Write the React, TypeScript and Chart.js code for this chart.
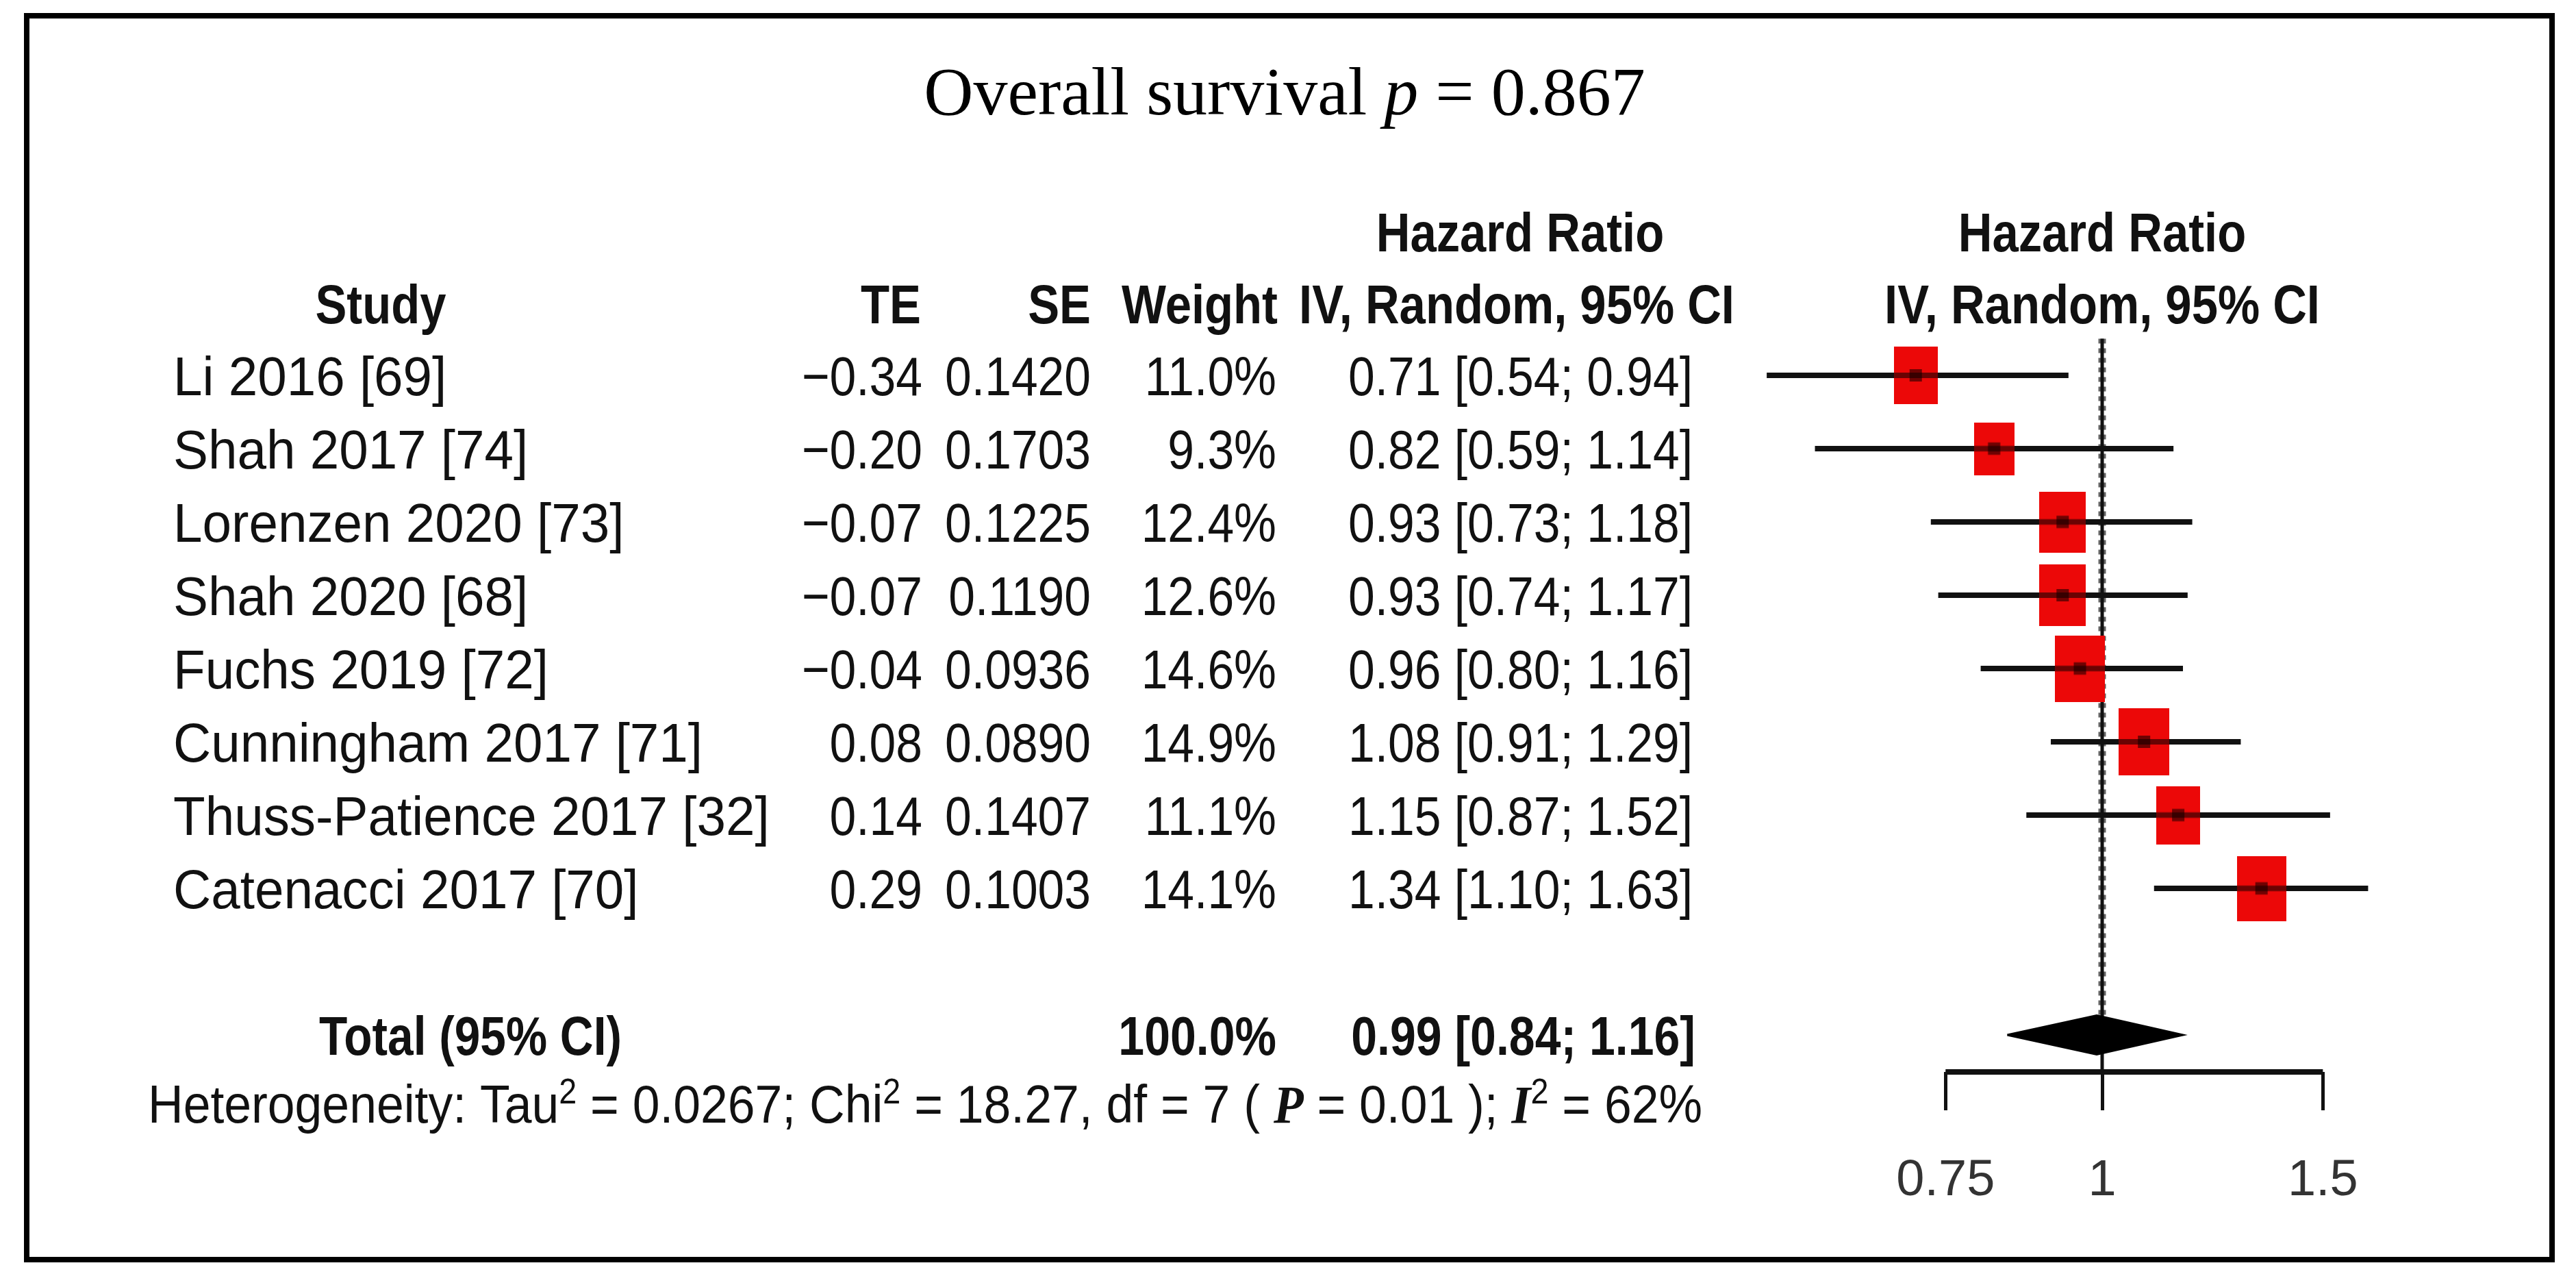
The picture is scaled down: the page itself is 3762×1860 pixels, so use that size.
import React, { useEffect, useRef } from "react";
import { Chart, registerables } from "chart.js";

Chart.register(...registerables);

// ---------------- data ----------------
const STUDIES = [
  "Li 2016 [69]",
  "Shah 2017 [74]",
  "Lorenzen 2020 [73]",
  "Shah 2020 [68]",
  "Fuchs 2019 [72]",
  "Cunningham 2017 [71]",
  "Thuss-Patience 2017 [32]",
  "Catenacci 2017 [70]",
];
const TE = [-0.34, -0.2, -0.07, -0.07, -0.04, 0.08, 0.14, 0.29];
const SE = [0.142, 0.1703, 0.1225, 0.119, 0.0936, 0.089, 0.1407, 0.1003];
const WEIGHT = [11.0, 9.3, 12.4, 12.6, 14.6, 14.9, 11.1, 14.1];
const HR = [0.71, 0.82, 0.93, 0.93, 0.96, 1.08, 1.15, 1.34];
const HR_LOWER = [0.54, 0.59, 0.73, 0.74, 0.8, 0.91, 0.87, 1.1];
const HR_UPPER = [0.94, 1.14, 1.18, 1.17, 1.16, 1.29, 1.52, 1.63];

const TOTAL_LABEL = "Total (95% CI)";
const TOTAL_WEIGHT = 100.0;
const TOTAL_HR = 0.99;
const TOTAL_LOWER = 0.84;
const TOTAL_UPPER = 1.16;

const HET_TAU2 = "0.0267";
const HET_CHI2 = "18.27";
const HET_DF = "7";
const HET_P = "0.01";
const HET_I2 = "62%";

const X_TICKS = [0.75, 1, 1.5];
const X_TICK_LABELS = ["0.75", "1", "1.5"];

const TITLE_PARTS = ["Overall survival ", "p", " = 0.867"];
const HEAD_HR = "Hazard Ratio";
const HEAD_METHOD = "IV, Random, 95% CI";
const HEAD_COLS = ["Study", "TE", "SE", "Weight"];

// ---------------- layout ----------------
const W = 3762;
const H = 1860;
const PLOT_LEFT = 2540;
const PLOT_RIGHT = 3520;
const PLOT_TOP = 494.5;
const AXIS_Y = 1565;
const NULL_X_PX = 3070;
const PX_PER_LN = 795;
const ROW_PX = 107;
const TOTAL_ROW = 9;
const Y_MIN = -0.5;
const Y_MAX = Y_MIN + (AXIS_Y - PLOT_TOP) / ROW_PX;
const X_MIN = Math.exp((PLOT_LEFT - NULL_X_PX) / PX_PER_LN);
const X_MAX = Math.exp((PLOT_RIGHT - NULL_X_PX) / PX_PER_LN);
const TICK_LEN = 56;
const TICK_FONT = 74;
const TICK_PAD = 59.6;
const AXIS_H = TICK_LEN + TICK_FONT * 1.2 + 2 * TICK_PAD;
const DIAMOND_HALF = 28.5 / ROW_PX;

const SANS = '"Liberation Sans", Arial, Helvetica, sans-serif';
const SERIF = '"Liberation Serif", "Times New Roman", Times, serif';
const FS = 80;

function fmtTE(v: number) {
  return (v < 0 ? "\u2212" : "") + Math.abs(v).toFixed(2);
}
function fmtCI(h: number, l: number, u: number) {
  return `${h.toFixed(2)} [${l.toFixed(2)}; ${u.toFixed(2)}]`;
}

function drawText(
  ctx: CanvasRenderingContext2D,
  text: string,
  x: number,
  yc: number,
  align: "left" | "right" | "center",
  sx: number,
  bold = false,
  size = FS
) {
  ctx.save();
  ctx.font = `${bold ? "bold " : ""}${size}px ${SANS}`;
  const w = ctx.measureText(text).width * sx;
  const left = align === "left" ? x : align === "right" ? x - w : x - w / 2;
  ctx.translate(left, yc + size * 0.358);
  ctx.scale(sx, 1);
  ctx.textAlign = "left";
  ctx.textBaseline = "alphabetic";
  ctx.fillStyle = "#111";
  ctx.fillText(text, 0, 0);
  ctx.restore();
}

function makeBox(w: number) {
  const c = document.createElement("canvas");
  const bw = Math.round(19.2 * Math.sqrt(w));
  const bh = Math.round(25.4 * Math.sqrt(w));
  c.width = bw;
  c.height = bh;
  const g = c.getContext("2d")!;
  g.fillStyle = "rgb(236, 8, 8)";
  g.fillRect(0, 0, bw, bh);
  g.fillStyle = "rgba(70, 0, 0, 0.75)";
  g.fillRect(bw / 2 - 9, bh / 2 - 9, 18, 18);
  g.fillStyle = "rgba(20, 0, 0, 0.6)";
  g.fillRect(0, bh / 2 - 4, bw, 8);
  return c;
}

const textPlugin = {
  id: "forestText",
  beforeDraw(chart: any) {
    const ctx = chart.ctx as CanvasRenderingContext2D;
    ctx.save();
    ctx.fillStyle = "#fff";
    ctx.fillRect(0, 0, W, H);
    ctx.restore();
  },
  afterDraw(chart: any) {
    const ctx = chart.ctx as CanvasRenderingContext2D;
    const xs = chart.scales.x;
    const ys = chart.scales.y;
    const nullX = xs.getPixelForValue(1);

    // frame
    ctx.save();
    ctx.strokeStyle = "#000";
    ctx.lineWidth = 8;
    ctx.strokeRect(39, 23, 3688, 1816);
    ctx.restore();

    // title
    ctx.save();
    ctx.fillStyle = "#000";
    ctx.textBaseline = "alphabetic";
    const tf = 100;
    const fonts = [`${tf}px ${SERIF}`, `italic ${tf}px ${SERIF}`, `${tf}px ${SERIF}`];
    const widths = TITLE_PARTS.map((t, i) => {
      ctx.font = fonts[i];
      return ctx.measureText(t).width;
    });
    let tx = 1876 - widths.reduce((a, b) => a + b, 0) / 2;
    TITLE_PARTS.forEach((t, i) => {
      ctx.font = fonts[i];
      ctx.fillText(t, tx, 167);
      tx += widths[i];
    });
    ctx.restore();

    // headers
    const hsx = 0.86;
    drawText(ctx, HEAD_HR, 2220, 338, "center", hsx, true);
    drawText(ctx, HEAD_HR, nullX, 338, "center", hsx, true);
    drawText(ctx, HEAD_COLS[0], 556, 443, "center", hsx, true);
    drawText(ctx, HEAD_COLS[1], 1345, 443, "right", hsx, true);
    drawText(ctx, HEAD_COLS[2], 1593, 443, "right", hsx, true);
    drawText(ctx, HEAD_COLS[3], 1866, 443, "right", hsx, true);
    drawText(ctx, HEAD_METHOD, 2215, 443, "center", hsx, true);
    drawText(ctx, HEAD_METHOD, nullX, 443, "center", hsx, true);

    // rows
    STUDIES.forEach((s, i) => {
      const y = ys.getPixelForValue(i);
      drawText(ctx, s, 253, y, "left", 0.955);
      drawText(ctx, fmtTE(TE[i]), 1347, y, "right", 0.87);
      drawText(ctx, SE[i].toFixed(4), 1593, y, "right", 0.87);
      drawText(ctx, WEIGHT[i].toFixed(1) + "%", 1864, y, "right", 0.87);
      drawText(ctx, fmtCI(HR[i], HR_LOWER[i], HR_UPPER[i]), 2472, y, "right", 0.87);
    });

    // total
    const ty = ys.getPixelForValue(TOTAL_ROW);
    drawText(ctx, TOTAL_LABEL, 466, ty, "left", 0.845, true);
    drawText(ctx, TOTAL_WEIGHT.toFixed(1) + "%", 1864, ty, "right", 0.85, true);
    drawText(ctx, fmtCI(TOTAL_HR, TOTAL_LOWER, TOTAL_UPPER), 2476, ty, "right", 0.85, true);

    // heterogeneity
    const hf = 78;
    const hy = 1611;
    const sans = `${hf}px ${SANS}`;
    const sup = `${Math.round(hf * 0.65)}px ${SANS}`;
    const bi = `bold italic ${hf}px ${SERIF}`;
    const segs: { t: string; f: string; up?: boolean }[] = [
      { t: "Heterogeneity: Tau", f: sans },
      { t: "2", f: sup, up: true },
      { t: " = " + HET_TAU2 + "; Chi", f: sans },
      { t: "2", f: sup, up: true },
      { t: " = " + HET_CHI2 + ", df = " + HET_DF + " ( ", f: sans },
      { t: "P", f: bi },
      { t: " = " + HET_P + " ); ", f: sans },
      { t: "I", f: bi },
      { t: "2", f: sup, up: true },
      { t: " = " + HET_I2, f: sans },
    ];
    ctx.save();
    const sw = segs.map((sg) => {
      ctx.font = sg.f;
      return ctx.measureText(sg.t).width;
    });
    const total = sw.reduce((a, b) => a + b, 0);
    const hsx2 = (2486 - 216) / total;
    ctx.translate(216, hy + hf * 0.358);
    ctx.scale(hsx2, 1);
    ctx.fillStyle = "#111";
    ctx.textBaseline = "alphabetic";
    let hx = 0;
    segs.forEach((sg, i) => {
      ctx.font = sg.f;
      ctx.fillText(sg.t, hx, sg.up ? -hf * 0.36 : 0);
      hx += sw[i];
    });
    ctx.restore();
  },
};

export default function App() {
  const ref = useRef<HTMLCanvasElement | null>(null);

  useEffect(() => {
    document.body.style.margin = "0";
    document.body.style.overflow = "hidden";
    const canvas = ref.current!;
    const boxImgs = WEIGHT.map((w) => makeBox(w));

    const whiskers = STUDIES.map((_, i) => ({
      label: "ci" + i,
      data: [
        { x: HR_LOWER[i], y: i },
        { x: HR_UPPER[i], y: i },
      ],
      showLine: true,
      borderColor: "#111",
      borderWidth: 8,
      pointRadius: 0,
      order: 2,
      clip: false as any,
    }));

    const chart = new Chart(canvas, {
      type: "scatter",
      data: {
        datasets: [
          {
            label: "boxes",
            data: HR.map((v, i) => ({ x: v, y: i })),
            pointStyle: boxImgs as any,
            pointRadius: 20,
            showLine: false,
            order: 0,
            clip: false as any,
          },
          {
            label: "total",
            data: [
              { x: TOTAL_LOWER, y: TOTAL_ROW },
              { x: TOTAL_HR, y: TOTAL_ROW - DIAMOND_HALF },
              { x: TOTAL_UPPER, y: TOTAL_ROW },
              { x: TOTAL_HR, y: TOTAL_ROW + DIAMOND_HALF },
              { x: TOTAL_LOWER, y: TOTAL_ROW },
            ],
            showLine: true,
            fill: "shape",
            backgroundColor: "#000",
            borderColor: "#000",
            borderWidth: 3,
            pointRadius: 0,
            order: 1,
            clip: false as any,
          } as any,
          ...whiskers,
          {
            label: "null",
            data: [
              { x: 1, y: Y_MIN },
              { x: 1, y: Y_MAX },
            ],
            showLine: true,
            borderColor: "#111",
            borderWidth: 5,
            pointRadius: 0,
            order: 3,
            clip: false as any,
          },
          {
            label: "null-dash",
            data: [
              { x: 1, y: Y_MIN },
              { x: 1, y: TOTAL_ROW - DIAMOND_HALF },
            ],
            showLine: true,
            borderColor: "#666",
            borderWidth: 11,
            borderDash: [7, 7],
            pointRadius: 0,
            order: 4,
            clip: false as any,
          },
          {
            label: "axis",
            data: [
              { x: X_TICKS[0], y: Y_MAX },
              { x: X_TICKS[X_TICKS.length - 1], y: Y_MAX },
            ],
            showLine: true,
            borderColor: "#111",
            borderWidth: 8,
            pointRadius: 0,
            order: 5,
            clip: false as any,
          },
        ],
      },
      options: {
        responsive: false,
        animation: false,
        devicePixelRatio: 1,
        events: [],
        layout: {
          padding: {
            left: PLOT_LEFT,
            right: W - PLOT_RIGHT,
            top: PLOT_TOP,
            bottom: H - AXIS_Y - AXIS_H,
          },
        },
        plugins: {
          legend: { display: false },
          tooltip: { enabled: false },
        },
        scales: {
          x: {
            type: "logarithmic",
            position: "bottom",
            min: X_MIN,
            max: X_MAX,
            afterBuildTicks: (axis: any) => {
              axis.ticks = X_TICKS.map((v) => ({ value: v }));
            },
            ticks: {
              autoSkip: false,
              maxRotation: 0,
              minRotation: 0,
              padding: TICK_PAD,
              color: "#333",
              font: {
                family: '"Liberation Sans Narrow", "Arial Narrow", "Liberation Sans", Arial, sans-serif',
                size: TICK_FONT,
              },
              callback: (_v: any, i: number) => X_TICK_LABELS[i],
            },
            grid: {
              display: true,
              drawOnChartArea: false,
              drawTicks: true,
              tickLength: TICK_LEN,
              tickColor: "#111",
              tickWidth: 5,
              color: "#111",
              lineWidth: 5,
            },
            border: { display: false },
          } as any,
          y: {
            type: "linear",
            min: Y_MIN,
            max: Y_MAX,
            reverse: true,
            display: false,
          },
        },
      },
      plugins: [textPlugin],
    });

    return () => {
      chart.destroy();
    };
  }, []);

  return (
    <div style={{ width: W, height: H }}>
      <canvas
        ref={ref}
        width={W}
        height={H}
        style={{ display: "block", width: W, height: H }}
      />
    </div>
  );
}
